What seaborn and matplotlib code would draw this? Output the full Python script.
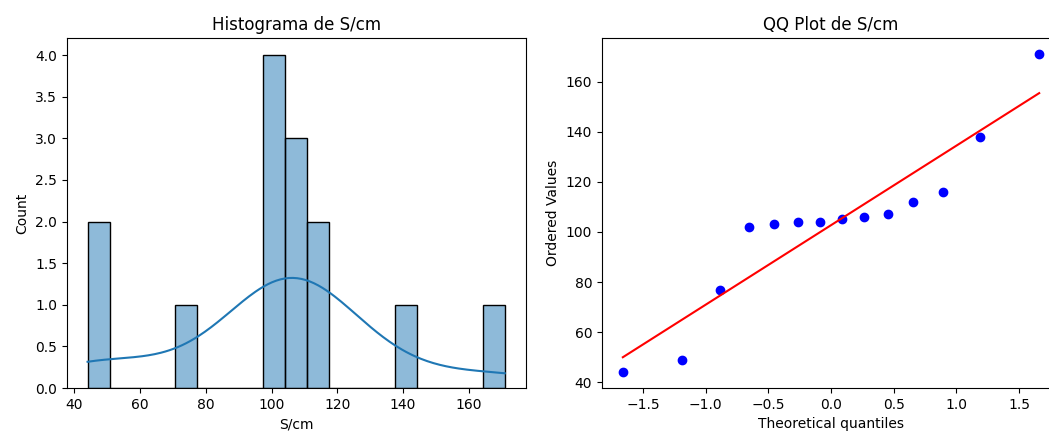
import numpy as np
import pandas as pd
import matplotlib
matplotlib.use("Agg")
import matplotlib.pyplot as plt
import seaborn as sns
from statistics import NormalDist

# Conductivity measurements (S/cm)
conductivity = [44, 49, 77, 102, 103, 104, 104, 105, 106, 107, 112, 116, 138, 171]
column = "S/cm"
n_bins = 19

df = pd.DataFrame({column: conductivity})

fig = plt.figure(figsize=(10.49, 4.36), dpi=100)
ax1 = fig.add_axes([0.0636, 0.110, 0.4375, 0.802])
# the right panel runs slightly past the figure's right edge
ax2 = fig.add_axes([0.5739, 0.110, 0.4366, 0.802])

# Histogram with KDE
sns.histplot(data=df, x=column, bins=n_bins, kde=True, ax=ax1)
ax1.set_title(f"Histograma de {column}")

# Normal probability plot (Filliben order-statistic medians)
vals = np.sort(np.asarray(conductivity, dtype=float))
n = len(vals)
m = (np.arange(1, n + 1) - 0.3175) / (n + 0.365)
m[-1] = 0.5 ** (1.0 / n)
m[0] = 1 - m[-1]
nd = NormalDist()
osm = np.array([nd.inv_cdf(p) for p in m])
slope, intercept = np.polyfit(osm, vals, 1)

ax2.plot(osm, vals, "bo")
ax2.plot(osm, slope * osm + intercept, "r-")
ax2.set_title(f"QQ Plot de {column}")
ax2.set_xlabel("Theoretical quantiles")
ax2.set_ylabel("Ordered Values")

fig.savefig("out.png", dpi=100)
